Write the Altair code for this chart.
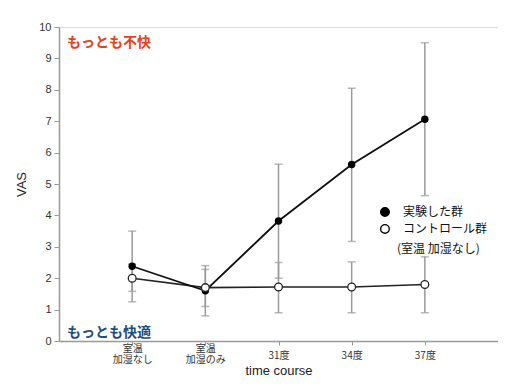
import altair as alt
import pandas as pd

# category positions and labels
positions = [1, 2, 3, 4, 5]
x_labels = ["室温\n加湿なし", "室温\n加湿のみ", "31度", "34度", "37度"]

# experimental group (filled)
exp_mean = [2.38, 1.6, 3.82, 5.62, 7.06]
exp_lo = [1.25, 0.8, 2.0, 3.17, 4.63]
exp_hi = [3.5, 2.28, 5.63, 8.05, 9.5]

# control group (open)
ctl_mean = [2.0, 1.7, 1.72, 1.72, 1.8]
ctl_lo = [1.58, 1.1, 0.9, 0.9, 0.9]
ctl_hi = [2.45, 2.4, 2.5, 2.52, 2.68]

# annotations
ann_text = ["もっとも不快", "もっとも快適"]
ann_color = ["#e8401c", "#1d4e7e"]
ann_x = [0.11, 0.11]
ann_y = [9.5, 0.27]

# legend (drawn manually inside the plot)
leg_sym_x = [4.455, 4.455]
leg_sym_y = [4.11, 3.57]
leg_fill = ["black", "white"]
leg_text = ["実験した群", "コントロール群", "(室温  加湿なし)"]
leg_text_x = [4.70, 4.70, 4.62]
leg_text_y = [4.11, 3.57, 2.93]

exp = pd.DataFrame({"x": positions, "m": exp_mean, "lo": exp_lo, "hi": exp_hi})
ctl = pd.DataFrame({"x": positions, "m": ctl_mean, "lo": ctl_lo, "hi": ctl_hi})
ann = pd.DataFrame({"t": ann_text, "c": ann_color, "x": ann_x, "y": ann_y})
legs = pd.DataFrame({"x": leg_sym_x, "y": leg_sym_y, "f": leg_fill})
legt = pd.DataFrame({"t": leg_text, "x": leg_text_x, "y": leg_text_y})

label_map = "{" + ",".join(f"'{p}': {repr(l.split(chr(10)))}" for p, l in zip(positions, x_labels)) + "}"

xscale = alt.Scale(domain=[0, 6], nice=False, zero=False)
yscale = alt.Scale(domain=[0, 10], nice=False)

xaxis = alt.Axis(
    values=positions,
    labelExpr=f"{label_map}[datum.value]",
    grid=False,
    title="time course",
    tickSize=4,
    labelPadding={"condition": {"test": "datum.value <= 2", "value": 3}, "value": 10},
    labelBaseline="middle",
    labelFontSize=10,
    labelFont="Noto Sans CJK JP",
    labelColor="#333",
    titleFontSize=13,
    titleFont="Liberation Sans",
    titleFontWeight="normal",
    titleColor="#222",
    titlePadding=0,
    domainColor="#999",
    domainWidth=1.5,
    tickColor="#999",
    labelLineHeight=11,
)
yaxis = alt.Axis(
    values=list(range(0, 11)),
    grid=False,
    title="VAS",
    tickSize=5,
    labelPadding=3,
    labelFontSize=11,
    labelFont="Liberation Sans",
    labelColor="#333",
    titleFontSize=13,
    titleFont="Liberation Sans",
    titleFontWeight="normal",
    titleColor="#222",
    titlePadding=10,
    domainColor="#999",
    domainWidth=1.5,
    tickColor="#999",
)


def X(field="x"):
    return alt.X(f"{field}:Q", scale=xscale, axis=xaxis)


def Y(field):
    return alt.Y(f"{field}:Q", scale=yscale, axis=yaxis)


def bars(df):
    b = alt.Chart(df)
    r = b.mark_rule(color="#9a9a9a", strokeWidth=1.5).encode(x=X(), y=Y("lo"), y2="hi:Q")
    t1 = b.mark_tick(color="#9a9a9a", orient="horizontal", size=8, thickness=1.5).encode(x=X(), y=Y("lo"))
    t2 = b.mark_tick(color="#9a9a9a", orient="horizontal", size=8, thickness=1.5).encode(x=X(), y=Y("hi"))
    return r + t1 + t2


ctl_line = alt.Chart(ctl).mark_line(color="#222", strokeWidth=1.6).encode(x=X(), y=Y("m"))
exp_line = alt.Chart(exp).mark_line(color="#111", strokeWidth=1.8).encode(x=X(), y=Y("m"))
exp_pts = alt.Chart(exp).mark_point(filled=True, color="black", size=55, opacity=1).encode(x=X(), y=Y("m"))
ctl_pts = alt.Chart(ctl).mark_point(
    shape="circle", fill="white", stroke="#222", strokeWidth=1.3, size=60, opacity=1, fillOpacity=1
).encode(x=X(), y=Y("m"))

ann_chart = alt.Chart(ann).mark_text(
    align="left", baseline="middle", fontSize=14, fontWeight="bold", font="Noto Sans CJK JP"
).encode(
    x=X(), y=Y("y"), text="t:N",
    color=alt.Color("c:N", scale=None),
)

leg_pts = alt.Chart(legs).mark_point(
    shape="circle", stroke="black", strokeWidth=1.3, size=75, opacity=1, fillOpacity=1
).encode(
    x=X(), y=Y("y"),
    fill=alt.Fill("f:N", scale=None),
)
leg_txt = alt.Chart(legt).mark_text(
    align="left", baseline="middle", fontSize=12, font="Noto Sans CJK JP", color="#111"
).encode(x=X(), y=Y("y"), text="t:N")

chart = alt.layer(
    bars(ctl), bars(exp), ctl_line, exp_line, exp_pts, ctl_pts, ann_chart, leg_pts, leg_txt
).properties(
    width=439, height=314,
    autosize=alt.AutoSizeParams(type="none"),
    padding={"left": 51, "top": 19, "right": 0, "bottom": 37},
).configure_view(stroke="#999", strokeWidth=1.5).configure(background="white")

chart.save("out.html", embed_options={"renderer": "svg", "actions": False})
